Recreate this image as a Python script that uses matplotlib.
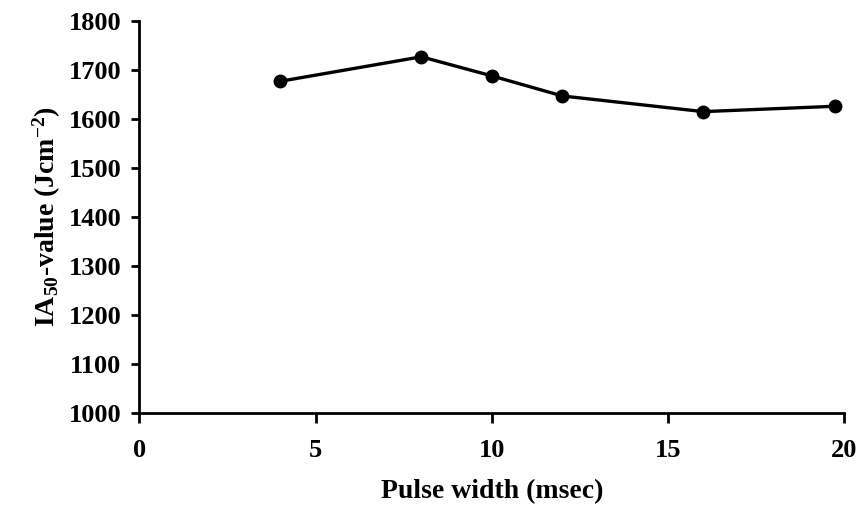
import matplotlib
matplotlib.use('Agg')
import matplotlib.pyplot as plt

# pulse width (msec) vs IA50 value (J/cm^2)
pulse_width = [4, 8, 10, 12, 16, 19.75]
ia50_value = [1677, 1727, 1688, 1647, 1615, 1626]

x_ticks = [0, 5, 10, 15, 20]
y_ticks = [1000, 1100, 1200, 1300, 1400, 1500, 1600, 1700, 1800]

plt.rcParams['font.family'] = 'Liberation Serif'
plt.rcParams['font.weight'] = 'bold'
plt.rcParams['mathtext.fontset'] = 'custom'
plt.rcParams['mathtext.rm'] = 'Liberation Serif:bold'
plt.rcParams['mathtext.it'] = 'Liberation Serif:bold'
plt.rcParams['mathtext.bf'] = 'Liberation Serif:bold'

fig = plt.figure(figsize=(8.67, 5.25), dpi=100)
ax = fig.add_axes([0.1607, 0.2139, 0.8131, 0.746])

ax.plot(pulse_width, ia50_value, color='black', linewidth=2.4,
        marker='o', markersize=9)

ax.set_xlim(0, 20)
ax.set_ylim(1000, 1800)
ax.set_xticks(x_ticks)
ax.set_yticks(y_ticks)

ax.spines['top'].set_visible(False)
ax.spines['right'].set_visible(False)
ax.spines['left'].set_linewidth(2)
ax.spines['bottom'].set_linewidth(2)
ax.tick_params(axis='both', direction='out', width=2, labelsize=19)
ax.tick_params(axis='x', length=7, pad=12)
ax.tick_params(axis='y', length=6, pad=7)

ax.set_xlabel('Pulse width (msec)', fontsize=20, fontweight='bold', labelpad=12)
ax.set_ylabel(r'IA$_{\mathrm{50}}$-value (Jcm$^{\mathrm{-2}}$)', fontsize=20,
              fontweight='bold', labelpad=4)

fig.savefig('out.png', dpi=100)
